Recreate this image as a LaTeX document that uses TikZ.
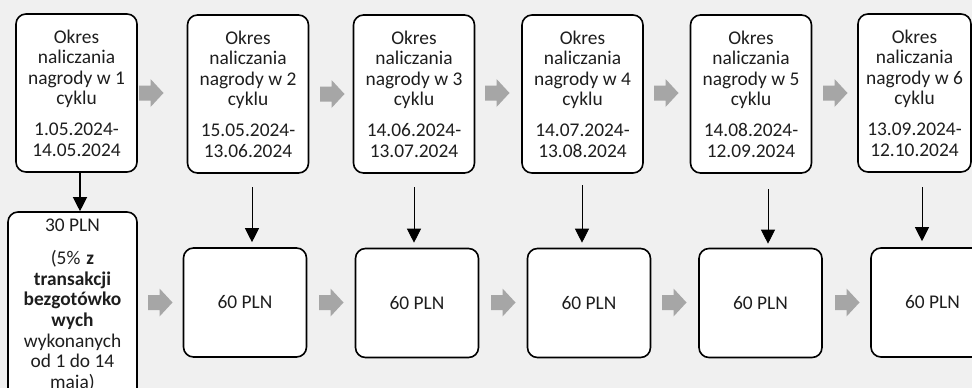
\documentclass[tikz,border=0pt]{standalone}
\usepackage{fontspec}
\setmainfont{Carlito}
\usetikzlibrary{arrows.meta}
\definecolor{bg}{HTML}{F0F0F0}
\definecolor{garr}{HTML}{A6A6A6}
\definecolor{txt}{HTML}{1E1E1E}
\newcommand\grarrowat[2]{\fill[garr] (#1,#2) ++(0,-7.5) -- ++(11.5,0) -- ++(0,-6.5) -- ++(13,14) -- ++(-13,14) -- ++(0,-6.5) -- ++(-11.5,0) -- cycle;}
\begin{document}
\begin{tikzpicture}[x=1pt,y=-1pt,
  box/.style={draw=black, line width=1.6pt, rounded corners=10pt, fill=white,
    align=center, inner sep=0pt, text=txt, font=\fontsize{19.4}{20.6}\selectfont},
  topbox/.style={box, minimum width=121pt, minimum height=158pt},
  botbox/.style={box, minimum width=123pt, minimum height=109pt},
  blk/.style={-{Triangle[width=14pt,length=14pt]}, line width=0.9pt, draw=black}]
\useasboundingbox (0,0) rectangle (972,388);
\clip (0,0) rectangle (972,388);
\fill[bg] (0,0) rectangle (972,388);

% top row
\node[topbox] (t1) at (76.5,93) {Okres\\naliczania\\nagrody w 1\\cyklu\\[10pt]1.05.2024-\\14.05.2024};
\node[topbox] (t2) at (248,94) {Okres\\naliczania\\nagrody w 2\\cyklu\\[10pt]15.05.2024-\\13.06.2024};
\node[topbox] (t3) at (414,94) {Okres\\naliczania\\nagrody w 3\\cyklu\\[10pt]14.06.2024-\\13.07.2024};
\node[topbox] (t4) at (582.5,94) {Okres\\naliczania\\nagrody w 4\\cyklu\\[10pt]14.07.2024-\\13.08.2024};
\node[topbox] (t5) at (751,94) {Okres\\naliczania\\nagrody w 5\\cyklu\\[10pt]14.08.2024-\\12.09.2024};
\node[topbox, minimum width=113pt] (t6) at (914.5,93) {Okres\\naliczania\\nagrody w 6\\cyklu\\[10pt]13.09.2024-\\12.10.2024};

% bottom row
\node[box, minimum width=129pt, minimum height=186pt] (b1) at (72.5,305) {30 PLN\\[13pt](5\%\hspace{6pt}\textbf{z}\\\textbf{transakcji}\\\textbf{bezgotówko}\\\textbf{wych}\\wykonanych\\od 1 do 14\\maja)};
\node[botbox] (b2) at (245,302.5) {60 PLN};
\node[botbox] (b3) at (417,303) {60 PLN};
\node[botbox] (b4) at (589,303) {60 PLN};
\node[botbox] (b5) at (760.5,303) {60 PLN};
\node[botbox] (b6) at (932.5,302.5) {60 PLN};

% grey block arrows
\grarrowat{139}{93}
\grarrowat{320}{94}
\grarrowat{485}{93}
\grarrowat{654}{93}
\grarrowat{823}{93}
\grarrowat{148}{302.5}
\grarrowat{319}{302.5}
\grarrowat{491}{302.5}
\grarrowat{662}{302.5}
\grarrowat{835}{302.5}

% black arrows
\coordinate (s1) at (80,172);
\coordinate (s2) at (252,187);
\coordinate (s3) at (414,187);
\coordinate (s4) at (582,185);
\coordinate (s5) at (768,189);
\coordinate (s6) at (922,187);
\draw[blk, line width=1.2pt] (s1) -- (s1 |- b1.north);
\draw[blk, shorten >=5pt] (s2) -- (s2 |- b2.north);
\draw[blk, shorten >=5pt] (s3) -- (s3 |- b3.north);
\draw[blk, shorten >=5pt] (s4) -- (s4 |- b4.north);
\draw[blk, shorten >=4pt] (s5) -- (s5 |- b5.north);
\draw[blk, shorten >=6pt] (s6) -- (s6 |- b6.north);
\end{tikzpicture}
\end{document}
